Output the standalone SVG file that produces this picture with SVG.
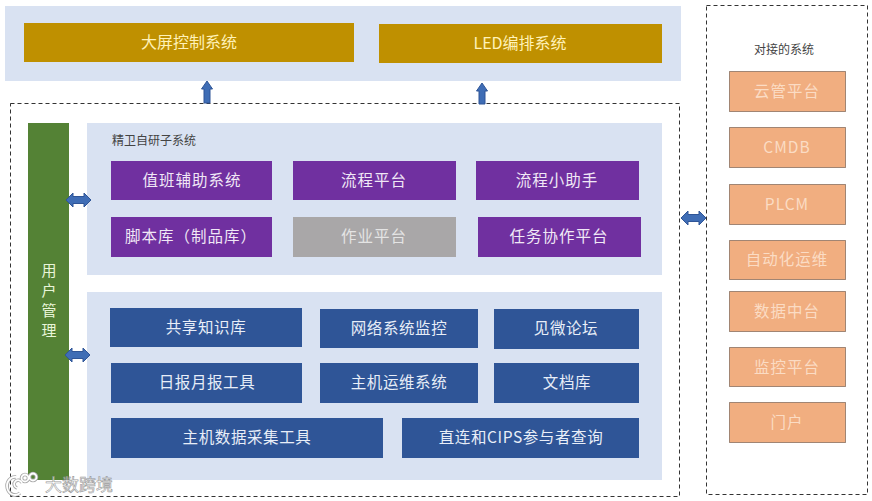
<svg xmlns="http://www.w3.org/2000/svg" width="872" height="501" viewBox="0 0 872 501">
<style>
text{font-family:"Noto Sans CJK SC","Liberation Sans",sans-serif;text-anchor:middle;dominant-baseline:central}
.panel{fill:#d9e2f2}
.gold{fill:#bf9000}.gold+text{fill:#fff2b8;font-size:16px}
.purple{fill:#7030a0}.purple+text,.grey+text{fill:#f0e8f6;font-size:15.500px;letter-spacing:1px}
.grey{fill:#a9a7a8}.grey+text{fill:#e4e4e4}
.blue{fill:#2f5597}.blue+text{fill:#e8eef8;font-size:15.500px;letter-spacing:.6px}
.orange{fill:#f1ae80;stroke:#4a3426;stroke-width:1;stroke-dasharray:1 1}.orange+text{fill:#fbdcc4;font-size:15.500px;letter-spacing:1px}
.latin{letter-spacing:.3px}
.dash{fill:none;stroke:#333;stroke-width:1;stroke-dasharray:4 3}
.cap{fill:#444;font-size:12px}
.uml{font-size:15px;fill:#e8f5d8}
.arrow{fill:#3f6db5;stroke:#2f5597;stroke-width:1}
.wm{fill:#fff;stroke:#888;stroke-width:.6;font-size:17px;opacity:.85}
.wl{fill:none;stroke:#a8a8a8;stroke-width:3.500}
.wl2{fill:none;stroke:#fff;stroke-width:1.800}
</style>
<rect width="872" height="501" fill="#fff"/>
<g id="top-panel"><rect class="panel" x="5" y="6" width="676" height="75"/></g>
<g id="n-screen"><rect class="gold" x="24" y="23" width="330" height="39"/><text x="189" y="40.500">大屏控制系统</text></g>
<g id="n-led"><rect class="gold" x="379" y="24" width="283" height="39"/><text x="520" y="41.500">LED编排系统</text></g>
<g id="self-frame"><rect class="dash" x="10.500" y="103.500" width="669" height="393"/></g>
<g id="n-user"><rect x="28" y="123" width="41" height="357" fill="#548235"/>
<text class="uml" x="49" y="269.500">用</text><text class="uml" x="49" y="289.500">户</text><text class="uml" x="49" y="309.500">管</text><text class="uml" x="49" y="329.500">理</text></g>
<g id="panel-self"><rect class="panel" x="87" y="123" width="575" height="152"/><text class="cap" x="154" y="139">精卫自研子系统</text></g>
<g id="panel-tools"><rect class="panel" x="87" y="292" width="575" height="188"/></g>
<g id="n-p1"><rect class="purple" x="111" y="161" width="161" height="39"/><text x="192" y="178.500">值班辅助系统</text></g>
<g id="n-p2"><rect class="purple" x="293" y="161" width="163" height="39"/><text x="374" y="178.500">流程平台</text></g>
<g id="n-p3"><rect class="purple" x="476" y="161" width="163" height="39"/><text x="557" y="178.500">流程小助手</text></g>
<g id="n-p4"><rect class="purple" x="111" y="217" width="161" height="40"/><text x="191" y="234.500">脚本库（制品库）</text></g>
<g id="n-p5"><rect class="grey" x="293" y="217" width="163" height="40"/><text x="374" y="234.500">作业平台</text></g>
<g id="n-p6"><rect class="purple" x="478" y="217" width="163" height="40"/><text x="559" y="234.500">任务协作平台</text></g>
<g id="n-b1"><rect class="blue" x="110" y="308" width="192" height="39"/><text x="206" y="325.500">共享知识库</text></g>
<g id="n-b2"><rect class="blue" x="320" y="309" width="158" height="39"/><text x="399" y="326.500">网络系统监控</text></g>
<g id="n-b3"><rect class="blue" x="494" y="309" width="145" height="40"/><text x="566" y="326.500">见微论坛</text></g>
<g id="n-b4"><rect class="blue" x="111" y="363" width="191" height="40"/><text x="207" y="381">日报月报工具</text></g>
<g id="n-b5"><rect class="blue" x="320" y="363" width="158" height="40"/><text x="399" y="381">主机运维系统</text></g>
<g id="n-b6"><rect class="blue" x="494" y="363" width="145" height="40"/><text x="567" y="381">文档库</text></g>
<g id="n-b7"><rect class="blue" x="111" y="418" width="272" height="40"/><text x="247" y="436">主机数据采集工具</text></g>
<g id="n-b8"><rect class="blue" x="402" y="418" width="237" height="40"/><text x="521" y="436">直连和CIPS参与者查询</text></g>
<g id="ext-frame"><rect class="dash" x="706.500" y="5.500" width="161" height="489"/><text class="cap" x="784" y="48.500" fill="#333">对接的系统</text></g>
<g id="n-o1"><rect class="orange" x="729.500" y="71.500" width="116" height="40"/><text x="787" y="89.500">云管平台</text></g>
<g id="n-o2"><rect class="orange" x="729.500" y="127.500" width="116" height="40"/><text class="latin" x="787" y="145.500">CMDB</text></g>
<g id="n-o3"><rect class="orange" x="729.500" y="184.500" width="116" height="40"/><text class="latin" x="787" y="202.500">PLCM</text></g>
<g id="n-o4"><rect class="orange" x="729.500" y="240.500" width="116" height="39"/><text x="787" y="257.500">自动化运维</text></g>
<g id="n-o5"><rect class="orange" x="729.500" y="291.500" width="116" height="40"/><text x="787" y="309.500">数据中台</text></g>
<g id="n-o6"><rect class="orange" x="729.500" y="347.500" width="116" height="39"/><text x="787" y="365.500">监控平台</text></g>
<g id="n-o7"><rect class="orange" x="729.500" y="402.500" width="116" height="40"/><text x="787" y="420.500">门户</text></g>
<g id="connectors">
<path class="arrow" d="M207 81l5.500 8h-2.500v14h-6v-14h-2.500z"/>
<path class="arrow" d="M482 83l5.500 8h-2.500v13h-6v-13h-2.500z"/>
<path class="arrow" d="M66 200l7-7v3.500h11v-3.500l7 7-7 7v-3.500h-11v3.500z"/>
<path class="arrow" d="M65 355l7-7v3.500h11v-3.500l7 7-7 7v-3.500h-11v3.500z"/>
<path class="arrow" d="M681 218l7-7v3.500h11v-3.500l7 7-7 7v-3.500h-11v3.500z"/>
</g>
<g id="watermark">
<path class="wl" d="M16 477a8 9 0 1 0 4 16M22 483a4 4 0 1 0-5 5"/>
<circle class="wl" cx="25" cy="478" r="3.500"/><circle class="wl" cx="33" cy="477" r="3.500"/>
<path class="wl2" d="M16 477a8 9 0 1 0 4 16M22 483a4 4 0 1 0-5 5"/>
<circle class="wl2" cx="25" cy="478" r="3.500"/><circle class="wl2" cx="33" cy="477" r="3.500"/>
<text class="wm" x="79" y="483.500">大数跨境</text></g>
</svg>
